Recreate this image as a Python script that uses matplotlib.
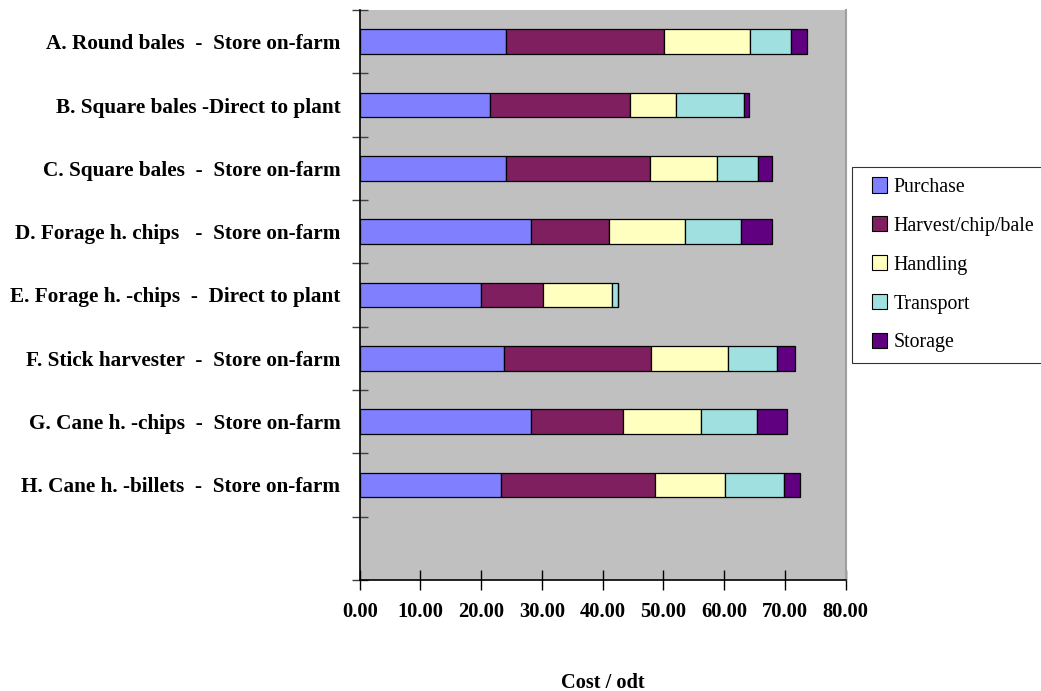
import matplotlib
matplotlib.use("Agg")
import matplotlib.pyplot as plt
from matplotlib.patches import Patch, Rectangle
from matplotlib.legend_handler import HandlerPatch
import numpy as np

# Supply-chain options (top to bottom)
options = [
    "A. Round bales  -  Store on-farm",
    "B. Square bales -Direct to plant",
    "C. Square bales  -  Store on-farm",
    "D. Forage h. chips   -  Store on-farm",
    "E. Forage h. -chips  -  Direct to plant",
    "F. Stick harvester  -  Store on-farm",
    "G. Cane h. -chips  -  Store on-farm",
    "H. Cane h. -billets  -  Store on-farm",
]

# Cost components per oven-dry tonne
purchase = [24.1, 21.5, 24.1, 28.2, 20.0, 23.8, 28.2, 23.3]
harvest = [26.0, 23.0, 23.7, 12.8, 10.2, 24.2, 15.1, 25.3]
handling = [14.2, 7.5, 11.0, 12.5, 11.4, 12.6, 12.8, 11.6]
transport = [6.7, 11.3, 6.7, 9.3, 0.9, 8.1, 9.3, 9.6]
storage = [2.6, 0.7, 2.4, 5.0, 0.0, 3.0, 4.9, 2.7]

components = ["Purchase", "Harvest/chip/bale", "Handling", "Transport", "Storage"]
colors = ["#8080FF", "#7F1F5F", "#FFFFC0", "#A0E0E0", "#600080"]
x_ticks = [0, 10, 20, 30, 40, 50, 60, 70, 80]

plt.rcParams["font.family"] = ["Liberation Serif", "DejaVu Serif"]

fig = plt.figure(figsize=(10.41, 6.91), dpi=100)
ax = fig.add_axes([359.7 / 1041, 1 - 580 / 691, (845.7 - 359.7) / 1041, (580 - 10) / 691])
ax.set_facecolor("#C0C0C0")

y = np.arange(len(options))
left = np.zeros(len(options))
for vals, col in zip([purchase, harvest, handling, transport, storage], colors):
    v = np.array(vals)
    ax.barh(y, v, left=left, height=0.385, color=col, edgecolor="black", linewidth=0.9)
    left += v

# one empty category slot below the last bar
ax.set_ylim(len(options) + 0.5, -0.5)
ax.set_xlim(0, 80)

ax.set_yticks(y)
ax.set_yticklabels(options, fontsize=15.3, fontweight="bold")
ax.set_yticks(np.arange(-0.5, len(options) + 1.0, 1.0), minor=True)
ax.tick_params(axis="y", which="major", length=0, pad=14)
ax.tick_params(axis="y", which="minor", length=11, direction="inout", width=1, color="#404040")

ax.set_xticks(x_ticks)
ax.set_xticklabels([f"{t:.2f}" for t in x_ticks], fontsize=14.8, fontweight="bold")
ax.tick_params(axis="x", length=14, direction="inout", width=1, pad=9)

ax.spines["top"].set_visible(False)
ax.spines["right"].set_color("#A0A0A0")
ax.spines["right"].set_linewidth(1.5)
ax.spines["left"].set_linewidth(1.2)
ax.spines["bottom"].set_linewidth(1.2)

fig.text(603 / 1041, 1 - 683 / 691, "Cost / odt", ha="center", va="center",
         fontsize=14.7, fontweight="bold")


def square_handle(legend, orig_handle, xdescent, ydescent, width, height, fontsize):
    s = 11.0
    return Rectangle((-xdescent + width - s, -ydescent + (height - s) / 2), s, s)


handles = [Patch(facecolor=c, edgecolor="black", linewidth=0.8) for c in colors]
leg = fig.legend(handles, components, loc="upper left",
                 bbox_to_anchor=(852 / 1041, 1 - 167 / 691),
                 fontsize=14.3, frameon=True, fancybox=False, edgecolor="black",
                 handlelength=1.21, handleheight=0.7, handletextpad=0.35,
                 labelspacing=1.0, borderpad=0.55, borderaxespad=0,
                 handler_map={Patch: HandlerPatch(patch_func=square_handle)})
leg.get_frame().set_linewidth(0.8)

fig.savefig("out.png", dpi=100, facecolor="white")
